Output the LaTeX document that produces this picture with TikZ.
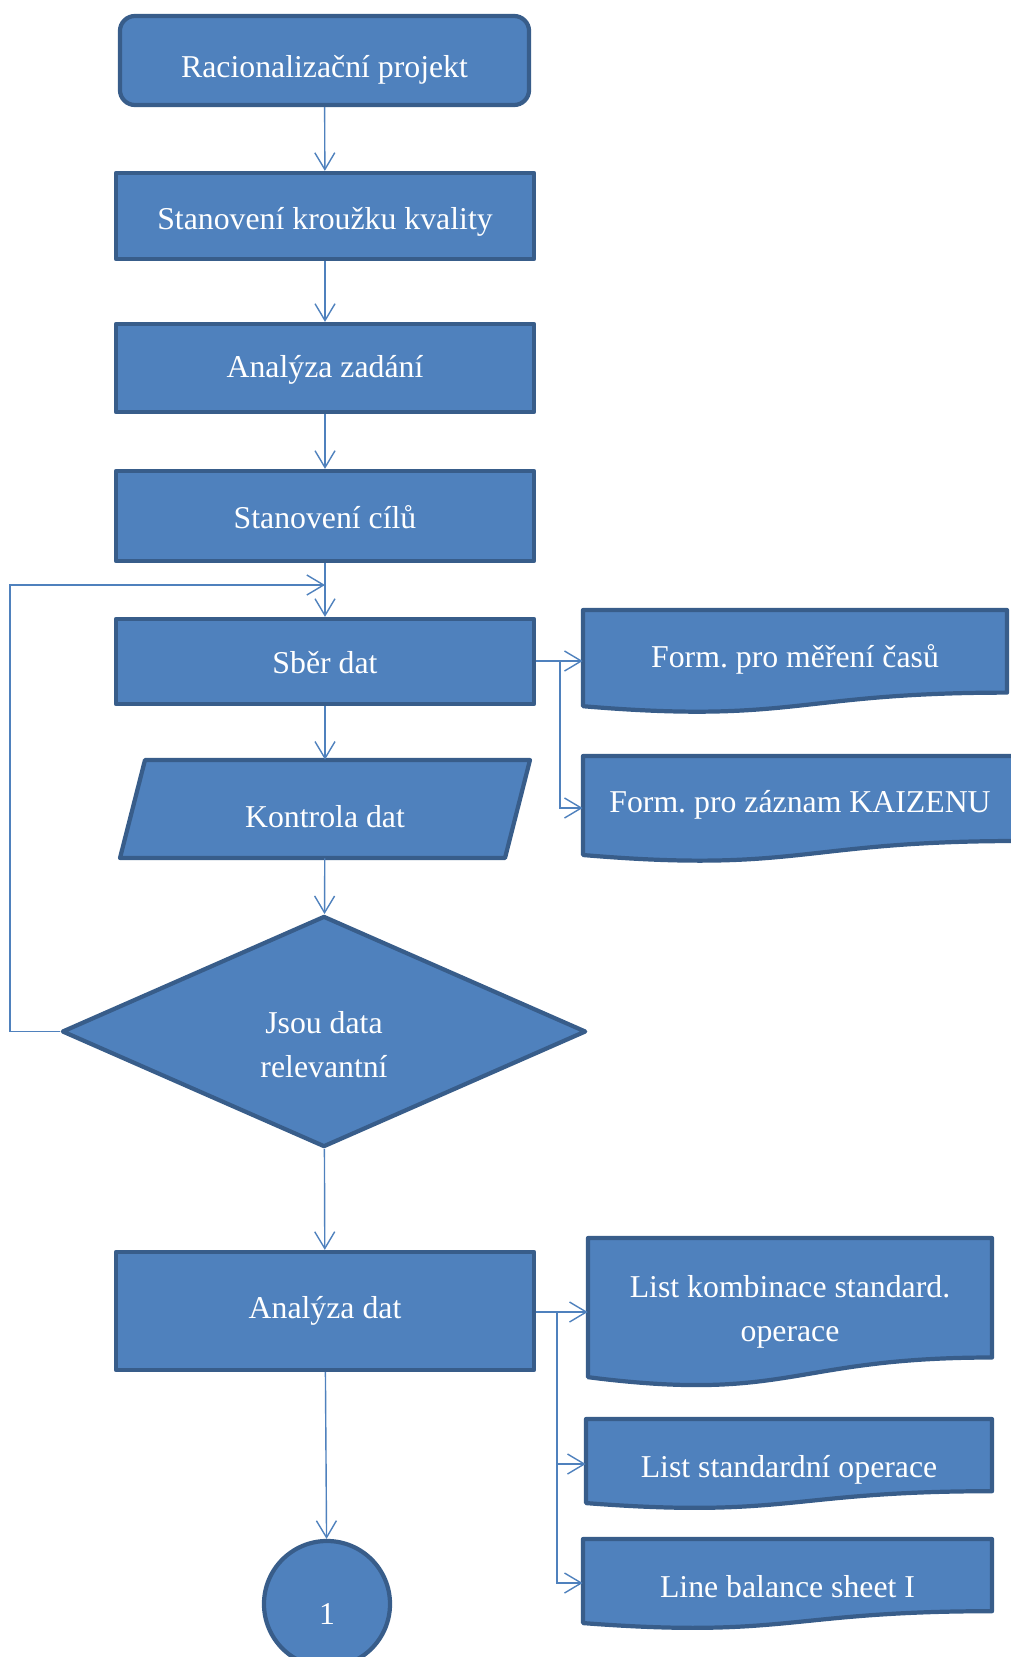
\documentclass[tikz,border=0pt]{standalone}
\usepackage{fontspec}
\setmainfont{Liberation Serif}
\usepackage{tikz}
\usetikzlibrary{shapes.geometric,arrows.meta}
\definecolor{boxfill}{RGB}{79,129,189}
\definecolor{boxline}{RGB}{56,93,138}
\frenchspacing

% document shape: left x, top y, right x, height
\newcommand{\docshape}[4]{%
  \filldraw[draw=boxline,fill=boxfill,line width=3pt,line join=round]
    (#1,#2) -- (#3,#2) -- (#3,{#2+0.802*#4})
    .. controls ({(#1+#3)/2},{#2+0.802*#4}) and ({(#1+#3)/2},{#2+1.107*#4}) ..
    (#1,{#2+0.934*#4}) -- cycle;}

\begin{document}
\begin{tikzpicture}[x=0.025cm,y=-0.025cm,
    box/.style={draw=boxline,fill=boxfill,line width=3pt,line join=round,text=white,
      font=\fontsize{22.6}{31}\selectfont,minimum width=10.45cm,align=center,inner sep=2pt},
    doctext/.style={text=white,font=\fontsize{22.6}{31}\selectfont,align=center,inner sep=0pt},
    base/.style={text height=#1,text depth=0pt},
    flow/.style={draw=boxfill,line width=1pt,-{Straight Barb[length=0.42cm,width=0.5cm]}}]
  \useasboundingbox (0,0) rectangle (1011,1657);

  % main column
  \node[box,base=23.5pt,rounded corners=0.375cm,minimum width=10.225cm,minimum height=2.225cm]
    (rproj) at (324.5,60.5) {Racionalizační projekt};
  \node[box,base=19.9pt,minimum height=2.15cm] (krouzek) at (325,216) {Stanovení kroužku kvality};
  \node[box,base=12.8pt,minimum height=2.2cm] (zadani) at (325,368) {Analýza zadání};
  \node[box,base=17.5pt,minimum height=2.25cm] (cile) at (325,516) {Stanovení cílů};
  \node[box,base=16.8pt,minimum height=2.125cm] (sber) at (325,661.5) {Sběr dat};
  % data input: parallelogram
  \filldraw[draw=boxline,fill=boxfill,line width=3pt,line join=round]
    (145,760) -- (530,760) -- (505,858) -- (120,858) -- cycle;
  \node[doctext,base=25.6pt,minimum width=9.625cm,minimum height=2.45cm]
    (kontrola) at (325,809) {Kontrola dat};
  \node[box,diamond,aspect=2.25,minimum width=13.1cm,minimum height=5.775cm,inner sep=0pt]
    (relev) at (324,1031.5) {\rule{0pt}{34pt}Jsou data\\relevantní};
  \node[box,base=10pt,minimum height=2.95cm] (analyza) at (325,1311) {Analýza dat};
  \node[box,base=28.5pt,circle,minimum size=3.15cm] (konec) at (327,1604) {1};

  % documents
  \docshape{583}{610}{1007}{103}
  \docshape{583}{756}{1017}{106}
  \docshape{588}{1238}{992}{149}
  \docshape{586}{1419}{992}{90}
  \docshape{583}{1539}{992}{90}
  \node[doctext,base=9pt,minimum width=10.6cm] (formcas) at (795,661) {Form. pro měření časů};
  \node[doctext,base=6.7pt,minimum width=10.85cm] (formkai) at (800,808) {Form. pro záznam KAIZENU};
  \node[doctext,minimum width=10.1cm] (listkomb) at (790,1312) {List kombinace standard.\\operace};
  \node[doctext,base=18.5pt,minimum width=10.15cm] (liststd) at (789,1464) {List standardní operace};
  \node[doctext,base=19.9pt,minimum width=10.225cm] (linebal) at (787.5,1583) {Line balance sheet I};

  % connectors
  \draw[flow] (rproj) -- (krouzek);
  \draw[flow] (krouzek) -- (zadani);
  \draw[flow] (zadani) -- (cile);
  \draw[flow] (cile) -- (sber);
  \draw[flow] (sber) -- (kontrola);
  \draw[flow] (kontrola) -- (relev);
  \draw[flow] (relev) -- (analyza);
  \draw[flow] (analyza) -- (konec);

  % loop back from the decision
  \coordinate (lpl) at (10,585);
  \coordinate (lpe) at (325,585);
  \draw[flow] (relev.west) -| (lpl) -- (lpe);

  % side outputs
  \coordinate (sbrk) at (560,661);
  \draw[flow] (sber.east |- formcas.west) -- (formcas.west);
  \draw[flow] (sbrk) |- (formkai.west);
  \coordinate (abrk) at (557,1312);
  \draw[flow] (analyza.east |- listkomb.west) -- (listkomb.west);
  \draw[flow] (abrk) |- (liststd.west);
  \draw[flow] (abrk) |- (linebal.west);
\end{tikzpicture}
\end{document}
